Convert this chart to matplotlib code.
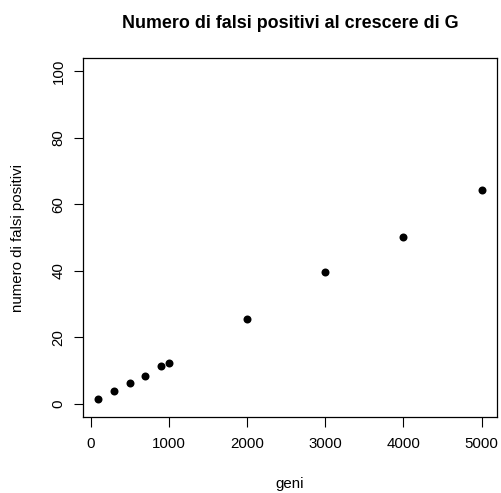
import matplotlib
matplotlib.use("Agg")
import matplotlib.pyplot as plt

geni = [100, 300, 500, 700, 900, 1000, 2000, 3000, 4000, 5000]
falsi_positivi = [1.4, 3.8, 6.1, 8.2, 11.2, 12.1, 25.5, 39.5, 50.3, 64.2]
x_ticks = [0, 1000, 2000, 3000, 4000, 5000]
y_ticks = [0, 20, 40, 60, 80, 100]

plt.rcParams['font.family'] = ['Liberation Sans', 'DejaVu Sans']
W, H = 502, 493
px = 72 / 100.0
fs = 15 * px

fig = plt.figure(figsize=(W/100, H/100), dpi=100)
ax = fig.add_axes([83/W, 1 - 417/H, (497-83)/W, (417-58)/H])

ax.plot(geni, falsi_positivi, 'o', color='black', markersize=8*px, markeredgewidth=0)

xr = max(geni) - min(geni)
ax.set_xlim(min(geni) - 0.04*xr, max(geni) + 0.04*xr)
ax.set_ylim(-4, 104)
ax.set_xticks(x_ticks)
ax.set_yticks(y_ticks)
ax.set_xticklabels([str(v) for v in x_ticks])
ax.set_yticklabels([str(v) for v in y_ticks], rotation=90, va='center')
ax.tick_params(axis='both', length=9.5*px, width=0.8, labelsize=fs, color='black')
ax.tick_params(axis='x', pad=10.5*px)
ax.tick_params(axis='y', pad=8*px)
for s in ax.spines.values():
    s.set_linewidth(0.9)
    s.set_color('black')

fig.text(290/W, 1 - 488/H, 'geni', ha='center', va='baseline', fontsize=fs)
fig.text(18/W, 1 - 237.5/H, 'numero di falsi positivi', rotation=90,
         ha='center', va='center', fontsize=fs)
fig.text(290/W, 1 - 28/H, 'Numero di falsi positivi al crescere di G',
         ha='center', va='baseline', fontsize=14.4*px*1.24, fontweight='bold')

fig.savefig('out.png', dpi=100, facecolor='white')
